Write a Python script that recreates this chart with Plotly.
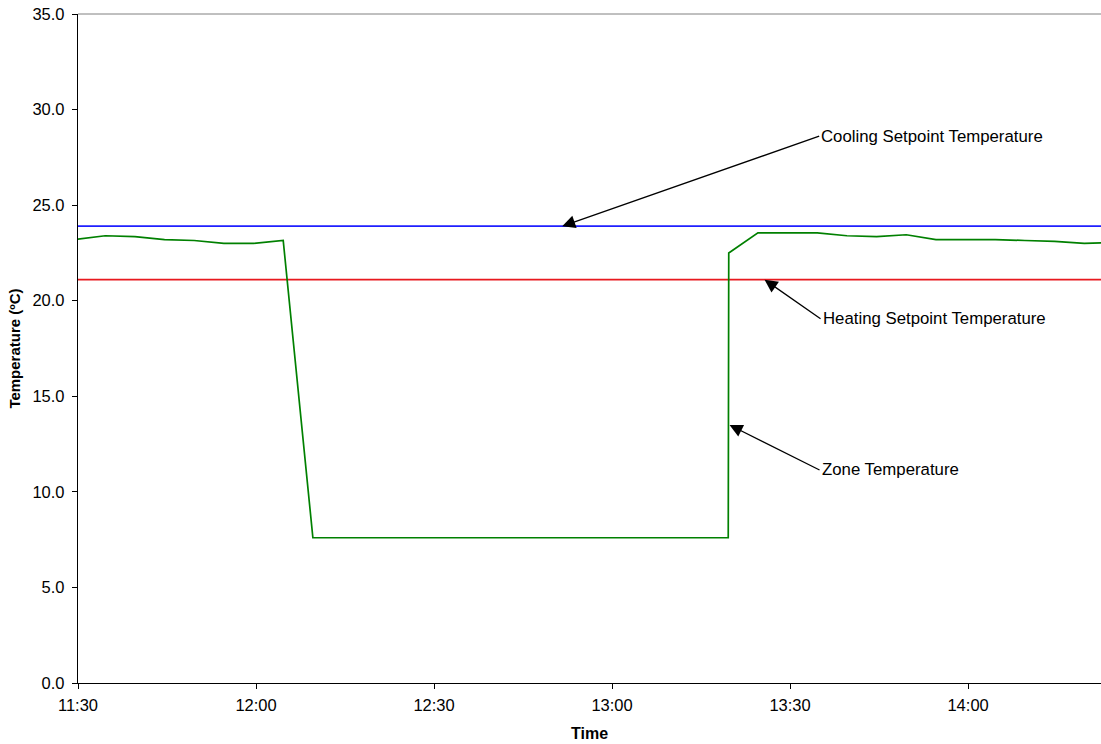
import plotly.graph_objects as go

# ---- data ----
zone_times = [
    "2000-01-01 11:29:35", "2000-01-01 11:34:35", "2000-01-01 11:39:35", "2000-01-01 11:44:35",
    "2000-01-01 11:49:35", "2000-01-01 11:54:35", "2000-01-01 11:59:35", "2000-01-01 12:04:35",
    "2000-01-01 12:09:35", "2000-01-01 12:14:35", "2000-01-01 12:19:35", "2000-01-01 12:24:35",
    "2000-01-01 12:29:35", "2000-01-01 12:34:35", "2000-01-01 12:39:35", "2000-01-01 12:44:35",
    "2000-01-01 12:49:35", "2000-01-01 12:54:35", "2000-01-01 12:59:35", "2000-01-01 13:04:35",
    "2000-01-01 13:09:35", "2000-01-01 13:14:35", "2000-01-01 13:19:35", "2000-01-01 13:19:40",
    "2000-01-01 13:24:35", "2000-01-01 13:29:35", "2000-01-01 13:34:35", "2000-01-01 13:39:35",
    "2000-01-01 13:44:35", "2000-01-01 13:49:35", "2000-01-01 13:54:35", "2000-01-01 13:59:35",
    "2000-01-01 14:04:35", "2000-01-01 14:09:35", "2000-01-01 14:14:35", "2000-01-01 14:19:35",
    "2000-01-01 14:24:35",
]
zone_temp = [
    23.2, 23.4, 23.35, 23.2,
    23.15, 23.0, 23.0, 23.15,
    7.6, 7.6, 7.6, 7.6,
    7.6, 7.6, 7.6, 7.6,
    7.6, 7.6, 7.6, 7.6,
    7.6, 7.6, 7.6, 22.5,
    23.55, 23.55, 23.55, 23.4,
    23.35, 23.45, 23.2, 23.2,
    23.2, 23.15, 23.1, 23.0,
    23.05,
]
setpoint_times = ["2000-01-01 11:25:00", "2000-01-01 14:30:00"]
cooling_setpoint = [23.9, 23.9]
heating_setpoint = [21.1, 21.1]

x_range = ["2000-01-01 11:30:00", "2000-01-01 14:22:24"]
y_range = [0, 35]

FONT = "Liberation Sans, Arial, sans-serif"

fig = go.Figure()
fig.add_trace(go.Scatter(x=setpoint_times, y=cooling_setpoint, mode="lines",
                         line=dict(color="#1f1fff", width=1.7), name="Cooling Setpoint Temperature"))
fig.add_trace(go.Scatter(x=setpoint_times, y=heating_setpoint, mode="lines",
                         line=dict(color="#e8191f", width=1.7), name="Heating Setpoint Temperature"))
fig.add_trace(go.Scatter(x=zone_times, y=zone_temp, mode="lines",
                         line=dict(color="#008000", width=1.7), name="Zone Temperature"))

ann_common = dict(showarrow=True, arrowhead=2, arrowsize=2.0, arrowwidth=1.3,
                  arrowcolor="black", xanchor="left", yanchor="middle",
                  font=dict(family=FONT, size=16.8, color="black"))
fig.add_annotation(x="2000-01-01 12:51:36", y=23.9, ax=257, ay=-90,
                   text="Cooling Setpoint Temperature", **ann_common)
fig.add_annotation(x="2000-01-01 13:25:42", y=21.1, ax=56, ay=39,
                   text="Heating Setpoint Temperature", **ann_common)
fig.add_annotation(x="2000-01-01 13:19:48", y=13.5, ax=90, ay=45,
                   text="Zone Temperature", **ann_common)

# top border of plot area
fig.add_shape(type="line", xref="paper", yref="paper", x0=0, x1=1, y0=1, y1=1,
              line=dict(color="#808080", width=1))

fig.update_layout(
    width=1101, height=744,
    margin=dict(l=78, r=0, t=14, b=61),
    paper_bgcolor="white", plot_bgcolor="white",
    showlegend=False,
    font=dict(family=FONT, size=16.5, color="black"),
)
fig.update_xaxes(
    type="date", range=x_range, tickformat="%H:%M", dtick=1800000,
    tick0="2000-01-01 11:30:00",
    showgrid=False, zeroline=False,
    showline=True, linecolor="black", linewidth=1.3,
    ticks="outside", ticklen=5, tickcolor="black", tickwidth=1,
    ticklabelstandoff=2,
    title=dict(text="<b>Time</b>", font=dict(family=FONT, size=16), standoff=14),
)
fig.update_yaxes(
    range=y_range, dtick=5, tickformat=".1f",
    showgrid=False, zeroline=False,
    showline=True, linecolor="black", linewidth=1.3,
    ticks="outside", ticklen=5, tickcolor="black", tickwidth=1,
    ticklabelstandoff=4,
    title=dict(text="<b>Temperature (ºC)</b>", font=dict(family=FONT, size=15), standoff=8),
)

# remove the page's default body margin so the figure sits at the top-left corner
fig.write_html("out.html",
               config={"displayModeBar": False},
               post_script="document.body.style.margin='0px';document.body.style.overflow='hidden';")
